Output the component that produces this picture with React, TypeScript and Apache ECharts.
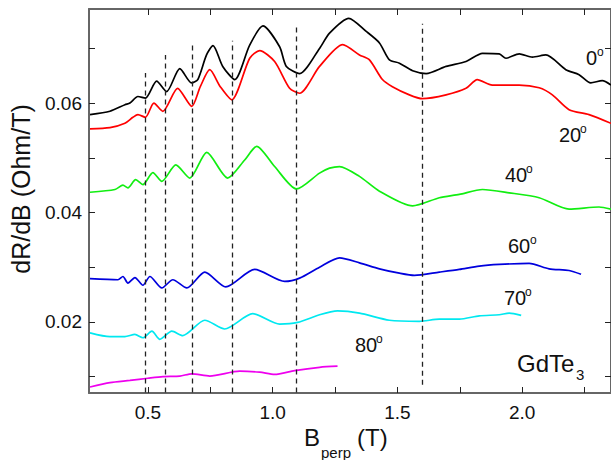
import React, { useEffect, useRef } from "react";
import * as echarts from "echarts";

// ---------- data ----------
const b0 = [0.268,0.348,0.408,0.428,0.46,0.49,0.535,0.575,0.628,0.675,0.70,0.735,0.761,0.80,0.848,0.908,0.961,1.028,1.055,1.108,1.188,1.228,1.305,1.375,1.428,1.468,1.508,1.561,1.615,1.695,1.775,1.841,1.908,1.935,1.988,2.041,2.095,2.175,2.228,2.275,2.321,2.356];
const r0 = [0.0579,0.0585,0.0597,0.0600,0.0612,0.0609,0.0640,0.0621,0.0663,0.0637,0.0643,0.0688,0.0705,0.0667,0.0643,0.0706,0.0741,0.0703,0.0667,0.0654,0.0700,0.0728,0.0755,0.0731,0.0710,0.0679,0.0673,0.0659,0.0654,0.0667,0.0676,0.0691,0.0690,0.0682,0.0690,0.0684,0.0688,0.0661,0.0652,0.0637,0.0641,0.0633];

const b20 = [0.268,0.348,0.408,0.44,0.46,0.49,0.524,0.56,0.619,0.676,0.71,0.748,0.79,0.836,0.908,0.948,1.008,1.068,1.108,1.188,1.281,1.348,1.388,1.44,1.48,1.548,1.60,1.695,1.775,1.82,1.88,1.988,2.068,2.121,2.188,2.268,2.356];
const r20 = [0.0553,0.0555,0.0563,0.0574,0.0579,0.0574,0.0600,0.0585,0.0627,0.0594,0.0630,0.0661,0.0630,0.0606,0.0682,0.0696,0.0676,0.0627,0.0618,0.0667,0.0707,0.0688,0.0679,0.0643,0.0630,0.0615,0.0608,0.0615,0.0627,0.0643,0.0633,0.0633,0.0628,0.0615,0.0588,0.0579,0.0563];

const b40 = [0.268,0.368,0.40,0.42,0.451,0.48,0.52,0.556,0.612,0.668,0.736,0.82,0.888,0.936,1.008,1.096,1.188,1.228,1.268,1.348,1.428,1.561,1.668,1.748,1.841,1.948,2.068,2.188,2.308,2.356];
const r40 = [0.0437,0.0442,0.0450,0.0445,0.0460,0.0451,0.0473,0.0457,0.0487,0.0463,0.0510,0.0463,0.0496,0.0521,0.0484,0.0443,0.0472,0.0481,0.0484,0.0466,0.0439,0.0412,0.0427,0.0433,0.0442,0.0436,0.0427,0.0406,0.0410,0.0406];

const b60 = [0.268,0.38,0.40,0.42,0.448,0.48,0.508,0.556,0.60,0.656,0.728,0.812,0.928,1.048,1.108,1.188,1.268,1.348,1.428,1.508,1.568,1.668,1.748,1.828,1.908,2.028,2.108,2.188,2.236];
const r60 = [0.0279,0.0277,0.0283,0.0271,0.0281,0.0267,0.0283,0.0262,0.0277,0.0262,0.0291,0.0264,0.0296,0.0274,0.0280,0.0300,0.0317,0.0308,0.0297,0.0289,0.0285,0.0291,0.0296,0.0302,0.0305,0.0307,0.0297,0.0294,0.0287];

const b70 = [0.268,0.348,0.408,0.448,0.48,0.516,0.548,0.596,0.64,0.728,0.808,0.92,1.028,1.10,1.188,1.26,1.348,1.468,1.588,1.668,1.748,1.828,1.908,1.948,1.996];
const r70 = [0.0180,0.0173,0.0173,0.0177,0.0171,0.0183,0.0168,0.0183,0.0175,0.0203,0.0187,0.0215,0.0196,0.0199,0.0213,0.0220,0.0216,0.0203,0.0201,0.0205,0.0205,0.0211,0.0213,0.0216,0.0212];

const b80 = [0.268,0.348,0.428,0.50,0.56,0.628,0.676,0.748,0.868,0.948,1.008,1.088,1.188,1.26];
const r80 = [0.0081,0.0089,0.0093,0.0097,0.0100,0.0101,0.0105,0.0101,0.0110,0.0108,0.0104,0.0111,0.0117,0.0119];

const dashX = [0.49, 0.571, 0.678, 0.838, 1.095, 1.601];
const dashTop = [0.0655, 0.0688, 0.0707, 0.0714, 0.0739, 0.0745];
const dashBottom = [0.0071, 0.0071, 0.0071, 0.0071, 0.0071, 0.0085];

const xTickValues = [0.5, 0.75, 1.0, 1.25, 1.5, 1.75, 2.0, 2.25];
const xLabelValues = [0.5, 1.0, 1.5, 2.0];
const yTickValues = [0.01, 0.02, 0.03, 0.04, 0.05, 0.06, 0.07];
const yLabelValues = [0.02, 0.04, 0.06];

const seriesNames = ["0°", "20°", "40°", "60°", "70°", "80°"];
const seriesColors = ["#000000", "#ff0000", "#11ee11", "#0000dd", "#00e8f0", "#ee00ee"];
const seriesX = [b0, b20, b40, b60, b70, b80];
const seriesY = [r0, r20, r40, r60, r70, r80];

const FONT = "'Liberation Sans', Arial, sans-serif";

export default function App() {
  const ref = useRef<HTMLDivElement>(null);
  useEffect(() => {
    if (!ref.current) return;
    const chart = echarts.init(ref.current, undefined, { renderer: "svg" });
    const axisLine = { show: true, lineStyle: { color: "#666", width: 2 } };
    const tickStyle = { color: "#222", width: 1 };
    const series: any[] = seriesX.map((xs, i) => ({
      type: "line",
      name: seriesNames[i],
      data: xs.map((x, j) => [x, seriesY[i][j]]),
      showSymbol: false,
      smooth: 0.25,
      lineStyle: { color: seriesColors[i], width: 1.7 },
      itemStyle: { color: seriesColors[i] },
      z: 3,
    }));
    series.push({
      type: "line",
      name: "dashes",
      data: [],
      silent: true,
      markLine: {
        symbol: ["none", "none"],
        silent: true,
        label: { show: false },
        lineStyle: { color: "#222", type: [5, 4], width: 1.3 },
        data: dashX.map((x, i) => [
          { coord: [x, dashBottom[i]] },
          { coord: [x, dashTop[i]] },
        ]),
      },
      z: 2,
    });

    const textStyle = (size: number) => ({ fontSize: size, fontFamily: FONT, fill: "#111" });
    const label = (text: string, x: number, y: number, size: number, extra: any = {}) => ({
      type: "text",
      x,
      y,
      style: { text, ...textStyle(size), align: "left", verticalAlign: "middle" },
      ...extra,
    });

    chart.setOption({
      animation: false,
      backgroundColor: "#ffffff",
      grid: { left: 89, top: 9, width: 523, height: 384, containLabel: false },
      xAxis: [
        {
          type: "value",
          min: 0.264,
          max: 2.356,
          position: "bottom",
          axisLine,
          splitLine: { show: false },
          axisTick: { show: true, inside: true, length: 6, lineStyle: tickStyle, customValues: xTickValues },
          axisLabel: {
            show: true,
            customValues: xLabelValues,
            formatter: (v: number) => v.toFixed(1),
            fontSize: 19,
            fontFamily: FONT,
            color: "#111",
            margin: 10,
          },
        },
        {
          type: "value",
          min: 0.264,
          max: 2.356,
          position: "top",
          axisLine,
          splitLine: { show: false },
          axisTick: { show: true, inside: true, length: 6, lineStyle: tickStyle, customValues: xTickValues },
          axisLabel: { show: false },
        },
      ],
      yAxis: [
        {
          type: "value",
          min: 0.007,
          max: 0.0772,
          position: "left",
          axisLine,
          splitLine: { show: false },
          axisTick: { show: true, inside: true, length: 6, lineStyle: tickStyle, customValues: yTickValues },
          axisLabel: {
            show: true,
            customValues: yLabelValues,
            formatter: (v: number) => v.toFixed(2),
            fontSize: 19,
            fontFamily: FONT,
            color: "#111",
            margin: 7,
          },
        },
        {
          type: "value",
          min: 0.007,
          max: 0.0772,
          position: "right",
          axisLine,
          splitLine: { show: false },
          axisTick: { show: true, inside: true, length: 6, lineStyle: tickStyle, customValues: yTickValues },
          axisLabel: { show: false },
        },
      ],
      series,
      graphic: [
        // y-axis title
        {
          type: "text",
          x: 21,
          y: 189,
          rotation: Math.PI / 2,
          style: { text: "dR/dB (Ohm/T)", ...textStyle(25), align: "center", verticalAlign: "middle" },
        },
        // x-axis title
        label("B", 304, 437, 24),
        label("perp", 321, 452, 15),
        label("(T)", 357, 437, 24),
        // angle labels
        label("0", 586, 58, 20),
        label("o", 597, 52, 12),
        label("20", 559, 135, 20),
        label("o", 580, 129, 12),
        label("40", 505, 175, 20),
        label("o", 526, 169, 12),
        label("60", 508, 246, 20),
        label("o", 530, 240, 12),
        label("70", 504, 298, 20),
        label("o", 525, 292, 12),
        label("80", 355, 345, 20),
        label("o", 376, 339, 12),
        // compound
        label("GdTe", 517, 363, 24),
        label("3", 576, 374, 15),
      ],
    });
    return () => chart.dispose();
  }, []);
  return (
    <div
      ref={ref}
      style={{ position: "fixed", left: 0, top: 0, width: 611, height: 460, background: "#fff" }}
    />
  );
}
